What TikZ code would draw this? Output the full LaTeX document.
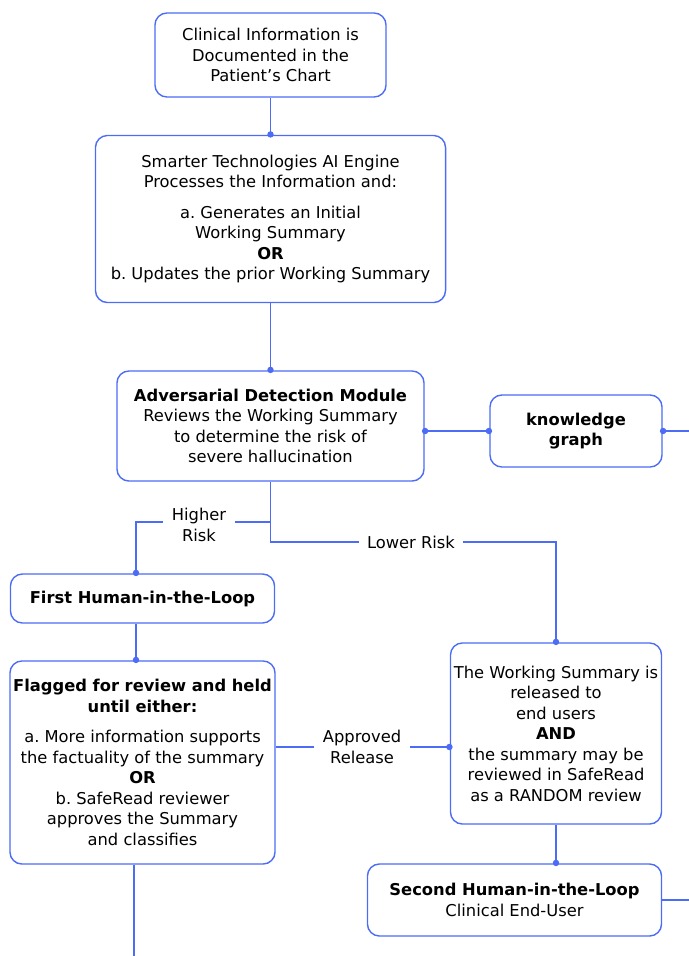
\documentclass[tikz,border=0pt]{standalone}
\usepackage{fontspec}
\setmainfont{DejaVu Sans}
\usepackage{tikz}
\usetikzlibrary{calc}
\usetikzlibrary{arrows.meta}
\definecolor{flowblue}{RGB}{76,108,246}
\frenchspacing

\begin{document}
\begin{tikzpicture}[x=0.025cm, y=-0.025cm, line width=1pt,
		box/.style={draw=flowblue, rounded corners=8.5pt, align=center, inner sep=0pt,
			font=\fontsize{11.6}{14.6}\selectfont},
		link/.style={draw=flowblue, -{Circle[length=4.5pt]}, shorten >=-2pt},
		tag/.style={fill=white, align=center, inner xsep=6pt, inner ysep=1pt,
			font=\fontsize{11.6}{14.6}\selectfont}]
		\useasboundingbox (0,0) rectangle (689,956);
		
		\node[box, minimum width=5.775cm, minimum height=2.1cm] (chart) at (270.5,55)
			{Clinical Information is\\Documented in the\\Patient’s Chart};
		\node[box, minimum width=8.75cm, minimum height=4.175cm] (engine) at (270.5,219)
			{Smarter Technologies AI Engine\\Processes the Information and:\\[7pt]
			 a. Generates an Initial\\Working Summary\\\textbf{OR}\\b. Updates the prior Working Summary};
		\node[box, minimum width=7.675cm, minimum height=2.75cm] (detect) at (270.5,426)
			{\textbf{Adversarial Detection Module}\\Reviews the Working Summary\\to determine the risk of\\severe hallucination};
		\node[box, minimum width=4.3cm, minimum height=1.8cm] (graph) at (576,431)
			{\textbf{knowledge}\\\textbf{graph}};
		\node[box, minimum width=6.6cm, minimum height=1.225cm] (loopone) at (142.5,598.5)
			{\textbf{First Human-in-the-Loop}};
		\node[box, minimum width=6.625cm, minimum height=5.075cm] (held) at (142.5,762.5)
			{\textbf{Flagged for review and held}\\\textbf{until either:}\\[7pt]
			 a. More information supports\\the factuality of the summary\\\textbf{OR}\\b. SafeRead reviewer\\approves the Summary\\and classifies};
		\node[box, minimum width=5.275cm, minimum height=4.525cm] (release) at (556,733.5)
			{The Working Summary is\\released to\\end users\\\textbf{AND}\\the summary may be\\reviewed in SafeRead\\as a RANDOM review};
		\node[box, minimum width=7.35cm, minimum height=1.8cm] (looptwo) at (514.5,900)
			{\textbf{Second Human-in-the-Loop}\\Clinical End-User};
		
		\coordinate (high) at (136,522);
		\coordinate (low) at (556,542);
		\coordinate (appr) at (362,747);
		\coordinate (rightedge) at (689,0);
		\coordinate (bottomedge) at (0,956);
		
		\draw[link] (chart) -- (engine);
		\draw[link] (engine) -- (detect);
		\draw[link, {Circle[length=4.5pt]}-{Circle[length=4.5pt]}, shorten <=-2pt]
			(detect.east |- graph.west) -- (graph.west);
		\draw[draw=flowblue, {Circle[length=4.5pt]}-, shorten <=-2pt] (graph.east) -- (graph.east -| rightedge);
		\draw[link] (detect.south) |- (high) -- (high |- loopone.north);
		\draw[link] (detect.south) |- (low) -- (release.north);
		\draw[link] (high |- loopone.south) -- (high |- held.north);
		\draw[link] (held.east |- appr) -- (release.west |- appr);
		\draw[link] (release.south) -- (release.south |- looptwo.north);
		\draw[draw=flowblue] (looptwo.east) -- (looptwo.east -| rightedge);
		\draw[draw=flowblue] ([xshift=-0.05cm]high |- held.south) -- ([xshift=-0.05cm]high |- bottomedge);
		
		\node[tag] (higher) at (199,525) {Higher\\Risk};
		\node[tag] (lower) at (411,542) {Lower Risk};
		\node[tag] (approved) at (appr) {Approved\\Release};
	\end{tikzpicture}
\end{document}
